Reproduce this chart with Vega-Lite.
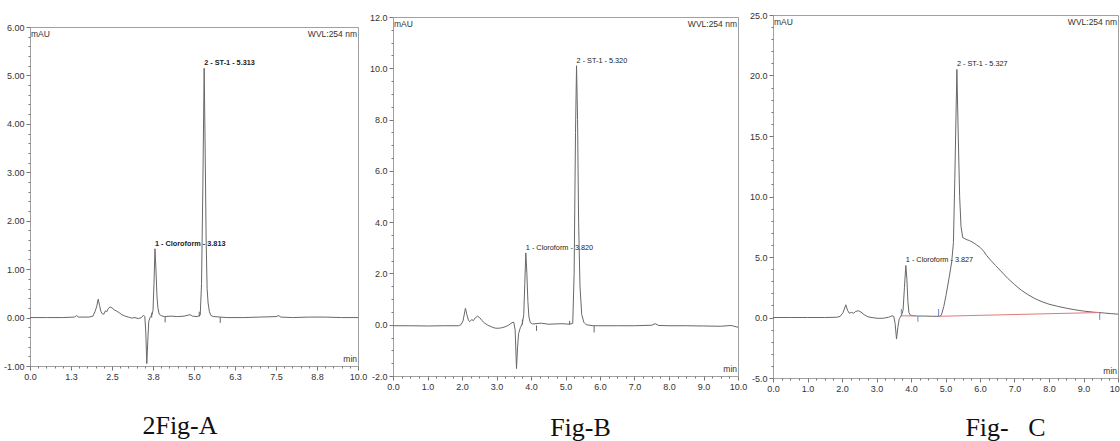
{
  "$schema": "https://vega.github.io/schema/vega-lite/v6.json",
  "background": "white",
  "padding": {"left": 2, "top": 10, "right": 0, "bottom": 0},
  "config": {
    "view": {"stroke": "#a0a0a0", "strokeWidth": 1},
    "axis": {"domain": false, "grid": false, "labelFont": "Liberation Sans", "labelFontSize": 9, "labelColor": "#333", "tickColor": "#777", "labelPadding": 2, "labelFlush": false, "labelOverlap": false},
    "title": {"font": "Liberation Serif", "fontSize": 26, "fontWeight": "normal", "color": "#111", "orient": "bottom", "anchor": "middle", "baseline": "alphabetic"}
  },
  "datasets": {
    "A": [
      {"t":0.0,"v":0.0},{"t":0.5,"v":0.0},{"t":1.0,"v":0.0},{"t":1.35,"v":0.01},{"t":1.42,"v":0.04},{"t":1.48,"v":0.01},{"t":1.8,"v":0.01},{"t":1.92,"v":0.03},{"t":1.98,"v":0.12},{"t":2.03,"v":0.22},{"t":2.08,"v":0.38},{"t":2.12,"v":0.25},{"t":2.16,"v":0.13},{"t":2.2,"v":0.08},{"t":2.25,"v":0.07},{"t":2.3,"v":0.14},{"t":2.34,"v":0.12},{"t":2.38,"v":0.18},{"t":2.44,"v":0.22},{"t":2.5,"v":0.2},{"t":2.57,"v":0.16},{"t":2.65,"v":0.13},{"t":2.72,"v":0.1},{"t":2.8,"v":0.06},{"t":2.9,"v":0.03},{"t":3.0,"v":0.01},{"t":3.1,"v":-0.01},{"t":3.2,"v":0.0},{"t":3.3,"v":-0.02},{"t":3.4,"v":0.0},{"t":3.46,"v":0.05},{"t":3.5,"v":0.02},{"t":3.53,"v":-0.3},{"t":3.56,"v":-0.95},{"t":3.59,"v":-0.5},{"t":3.62,"v":-0.08},{"t":3.66,"v":0.0},{"t":3.72,"v":0.06},{"t":3.75,"v":0.15},{"t":3.78,"v":0.7},{"t":3.81,"v":1.42},{"t":3.84,"v":1.0},{"t":3.87,"v":0.45},{"t":3.9,"v":0.2},{"t":3.94,"v":0.07},{"t":4.0,"v":0.04},{"t":4.1,"v":0.02},{"t":4.3,"v":0.03},{"t":4.5,"v":0.02},{"t":4.7,"v":0.03},{"t":4.88,"v":0.06},{"t":4.95,"v":0.03},{"t":5.1,"v":0.02},{"t":5.19,"v":0.05},{"t":5.23,"v":0.7},{"t":5.27,"v":2.7},{"t":5.31,"v":5.15},{"t":5.34,"v":3.5},{"t":5.37,"v":1.6},{"t":5.4,"v":0.6},{"t":5.43,"v":0.3},{"t":5.47,"v":0.12},{"t":5.52,"v":0.04},{"t":5.6,"v":0.02},{"t":5.8,"v":0.01},{"t":6.0,"v":0.0},{"t":6.5,"v":0.0},{"t":7.0,"v":0.01},{"t":7.5,"v":0.02},{"t":7.58,"v":0.04},{"t":7.65,"v":0.01},{"t":8.0,"v":0.0},{"t":8.5,"v":0.01},{"t":9.0,"v":0.01},{"t":9.5,"v":0.0},{"t":10.0,"v":0.0}
    ],
    "Amark": [{"t":3.71,"v":0.0,"v2":0.1},{"t":4.12,"v":0.02,"v2":-0.1},{"t":5.16,"v":0.02,"v2":0.12},{"t":5.8,"v":0.01,"v2":-0.11}],
    "Alab": [{"t":3.81,"v":1.42,"label":"1 - Cloroform - 3.813"},{"t":5.31,"v":5.15,"label":"2 - ST-1 - 5.313"}],
    "B": [
      {"t":0.0,"v":-0.04},{"t":0.5,"v":-0.04},{"t":1.0,"v":-0.05},{"t":1.5,"v":-0.04},{"t":1.9,"v":-0.04},{"t":1.97,"v":0.0},{"t":2.03,"v":0.15},{"t":2.1,"v":0.64},{"t":2.14,"v":0.4},{"t":2.19,"v":0.16},{"t":2.23,"v":0.12},{"t":2.28,"v":0.2},{"t":2.33,"v":0.16},{"t":2.38,"v":0.26},{"t":2.45,"v":0.33},{"t":2.51,"v":0.28},{"t":2.58,"v":0.16},{"t":2.66,"v":0.06},{"t":2.75,"v":-0.02},{"t":2.85,"v":-0.08},{"t":2.95,"v":-0.13},{"t":3.05,"v":-0.14},{"t":3.15,"v":-0.12},{"t":3.25,"v":-0.08},{"t":3.35,"v":-0.02},{"t":3.45,"v":0.08},{"t":3.5,"v":0.1},{"t":3.54,"v":-0.2},{"t":3.58,"v":-1.71},{"t":3.61,"v":-0.9},{"t":3.64,"v":-0.35},{"t":3.69,"v":-0.12},{"t":3.75,"v":0.05},{"t":3.79,"v":0.4},{"t":3.82,"v":1.6},{"t":3.85,"v":2.8},{"t":3.88,"v":2.0},{"t":3.91,"v":0.9},{"t":3.94,"v":0.3},{"t":3.98,"v":0.08},{"t":4.05,"v":0.03},{"t":4.3,"v":0.06},{"t":4.5,"v":0.02},{"t":4.9,"v":0.04},{"t":5.1,"v":0.02},{"t":5.21,"v":0.05},{"t":5.25,"v":2.0},{"t":5.29,"v":7.5},{"t":5.32,"v":10.1},{"t":5.35,"v":8.0},{"t":5.38,"v":4.0},{"t":5.42,"v":1.5},{"t":5.47,"v":0.4},{"t":5.53,"v":0.1},{"t":5.6,"v":0.0},{"t":5.8,"v":-0.04},{"t":6.5,"v":-0.04},{"t":7.0,"v":-0.04},{"t":7.5,"v":-0.02},{"t":7.6,"v":0.04},{"t":7.7,"v":-0.03},{"t":8.0,"v":-0.04},{"t":8.5,"v":-0.04},{"t":9.0,"v":-0.05},{"t":9.5,"v":-0.06},{"t":9.8,"v":-0.03},{"t":10.0,"v":-0.1}
    ],
    "Bmark": [{"t":3.75,"v":0.0,"v2":0.2},{"t":4.16,"v":-0.03,"v2":-0.24},{"t":5.12,"v":0.0,"v2":0.15},{"t":5.83,"v":-0.04,"v2":-0.3}],
    "Blab": [{"t":3.85,"v":2.8,"label":"1 - Cloroform - 3.820"},{"t":5.32,"v":10.1,"label":"2 - ST-1 - 5.320"}],
    "C": [
      {"t":0.0,"v":0.0},{"t":0.5,"v":0.0},{"t":1.0,"v":0.0},{"t":1.5,"v":0.0},{"t":1.85,"v":0.02},{"t":1.95,"v":0.1},{"t":2.03,"v":0.4},{"t":2.11,"v":1.05},{"t":2.16,"v":0.6},{"t":2.21,"v":0.36},{"t":2.28,"v":0.42},{"t":2.33,"v":0.35},{"t":2.4,"v":0.5},{"t":2.47,"v":0.56},{"t":2.55,"v":0.45},{"t":2.65,"v":0.22},{"t":2.75,"v":0.06},{"t":2.9,"v":-0.02},{"t":3.05,"v":-0.07},{"t":3.2,"v":-0.06},{"t":3.35,"v":0.02},{"t":3.45,"v":0.14},{"t":3.5,"v":0.1},{"t":3.54,"v":-0.5},{"t":3.58,"v":-1.78},{"t":3.62,"v":-0.8},{"t":3.66,"v":-0.1},{"t":3.72,"v":0.15},{"t":3.77,"v":0.6},{"t":3.81,"v":2.5},{"t":3.85,"v":4.3},{"t":3.88,"v":3.2},{"t":3.91,"v":1.3},{"t":3.94,"v":0.4},{"t":3.98,"v":0.2},{"t":4.05,"v":0.15},{"t":4.2,"v":0.12},{"t":4.4,"v":0.12},{"t":4.6,"v":0.1},{"t":4.82,"v":0.1},{"t":4.88,"v":0.2},{"t":4.95,"v":0.9},{"t":5.02,"v":1.9},{"t":5.1,"v":3.2},{"t":5.18,"v":4.6},{"t":5.23,"v":6.2},{"t":5.27,"v":11.5},{"t":5.33,"v":20.5},{"t":5.37,"v":15.0},{"t":5.41,"v":10.0},{"t":5.45,"v":7.5},{"t":5.5,"v":6.6},{"t":5.6,"v":6.45},{"t":5.7,"v":6.35},{"t":5.8,"v":6.2},{"t":5.9,"v":6.0},{"t":6.0,"v":5.8},{"t":6.1,"v":5.5},{"t":6.2,"v":5.1},{"t":6.32,"v":4.7},{"t":6.45,"v":4.3},{"t":6.6,"v":3.85},{"t":6.8,"v":3.25},{"t":7.0,"v":2.72},{"t":7.2,"v":2.25},{"t":7.4,"v":1.87},{"t":7.6,"v":1.55},{"t":7.8,"v":1.3},{"t":8.0,"v":1.1},{"t":8.25,"v":0.92},{"t":8.5,"v":0.77},{"t":8.75,"v":0.64},{"t":9.0,"v":0.53},{"t":9.3,"v":0.44},{"t":9.45,"v":0.41},{"t":9.6,"v":0.37},{"t":9.8,"v":0.32},{"t":10.0,"v":0.28}
    ],
    "Cbase1": [{"t":3.7,"v":0.14},{"t":4.1,"v":0.13}],
    "Cbase2": [{"t":4.82,"v":0.1},{"t":9.45,"v":0.41}],
    "Cmark": [{"t":3.72,"v":0.12,"v2":0.7},{"t":4.2,"v":0.12,"v2":-0.35},{"t":4.8,"v":0.1,"v2":0.7},{"t":9.47,"v":0.42,"v2":-0.2}],
    "Clab": [{"t":3.85,"v":4.3,"label":"1 - Cloroform - 3.827"},{"t":5.33,"v":20.5,"label":"2 - ST-1 - 5.327"}]
  },
  "hconcat": [
    {
      "width": 328, "height": 339,
      "title": {"text": "2Fig-A", "dx": -14, "offset": 32},
      "layer": [
        {"data": {"name": "A"}, "mark": {"type": "line", "color": "#686868", "strokeWidth": 1},
         "encoding": {
           "x": {"field": "t", "type": "quantitative", "scale": {"domain": [0, 10], "nice": false, "zero": false},
                 "axis": {"title": null, "tickCount": 500, "labelOverlap": false, "labelFlush": false, "values": [0,0.25,0.5,0.75,1,1.25,1.5,1.75,2,2.25,2.5,2.75,3,3.25,3.5,3.75,4,4.25,4.5,4.75,5,5.25,5.5,5.75,6,6.25,6.5,6.75,7,7.25,7.5,7.75,8,8.25,8.5,8.75,9,9.25,9.5,9.75,10],
                          "labelExpr": "abs(datum.value/1.25 - round(datum.value/1.25)) < 0.001 ? format(datum.value, '.1f') : ''",
                          "tickSize": {"condition": {"test": "abs(datum.value/1.25 - round(datum.value/1.25)) < 0.001", "value": 4}, "value": 2}}},
           "y": {"field": "v", "type": "quantitative", "scale": {"domain": [-1, 6], "nice": false, "zero": false},
                 "axis": {"title": null, "tickCount": 500, "labelOverlap": false, "values": [-1,-0.8,-0.6,-0.4,-0.2,0,0.2,0.4,0.6,0.8,1,1.2,1.4,1.6,1.8,2,2.2,2.4,2.6,2.8,3,3.2,3.4,3.6,3.8,4,4.2,4.4,4.6,4.8,5,5.2,5.4,5.6,5.8,6],
                          "labelExpr": "abs(datum.value - round(datum.value)) < 0.001 ? toString(round(datum.value)) + '.00' : ''",
                          "tickSize": {"condition": {"test": "abs(datum.value - round(datum.value)) < 0.001", "value": 4}, "value": 2}}}
         }},
        {"data": {"name": "Amark"}, "mark": {"type": "rule", "color": "#666", "strokeWidth": 1},
         "encoding": {"x": {"field": "t", "type": "quantitative"}, "y": {"field": "v", "type": "quantitative"}, "y2": {"field": "v2"}}},
        {"data": {"name": "Alab"}, "mark": {"type": "text", "align": "left", "baseline": "bottom", "dy": -1, "font": "Liberation Sans", "fontSize": 7.3, "fontWeight": "bold", "color": "#222"},
         "encoding": {"x": {"field": "t", "type": "quantitative"}, "y": {"field": "v", "type": "quantitative"}, "text": {"field": "label"}}},
        {"data": {"values": [{"label": "mAU"}]}, "mark": {"type": "text", "align": "left", "baseline": "top", "dx": 1, "dy": 3, "font": "Liberation Sans", "fontSize": 8.5, "color": "#333"},
         "encoding": {"x": {"datum": 0}, "y": {"datum": 6}, "text": {"field": "label"}}},
        {"data": {"values": [{"label": "WVL:254 nm"}]}, "mark": {"type": "text", "align": "right", "baseline": "top", "dx": -1, "dy": 3, "font": "Liberation Sans", "fontSize": 8.5, "color": "#333"},
         "encoding": {"x": {"datum": 10}, "y": {"datum": 6}, "text": {"field": "label"}}},
        {"data": {"values": [{"label": "min"}]}, "mark": {"type": "text", "align": "right", "baseline": "bottom", "dx": -1, "dy": -2, "font": "Liberation Sans", "fontSize": 8.5, "color": "#333"},
         "encoding": {"x": {"datum": 10}, "y": {"datum": -1}, "text": {"field": "label"}}}
      ]
    },
    {
      "width": 345, "height": 359,
      "title": {"text": "Fig-B", "dx": 15, "offset": 24},
      "layer": [
        {"data": {"name": "B"}, "mark": {"type": "line", "color": "#686868", "strokeWidth": 1},
         "encoding": {
           "x": {"field": "t", "type": "quantitative", "scale": {"domain": [0, 10], "nice": false, "zero": false},
                 "axis": {"title": null, "tickCount": 500, "labelOverlap": false, "labelFlush": false, "values": [0,0.25,0.5,0.75,1,1.25,1.5,1.75,2,2.25,2.5,2.75,3,3.25,3.5,3.75,4,4.25,4.5,4.75,5,5.25,5.5,5.75,6,6.25,6.5,6.75,7,7.25,7.5,7.75,8,8.25,8.5,8.75,9,9.25,9.5,9.75,10],
                          "labelExpr": "abs(datum.value - round(datum.value)) < 0.001 ? toString(round(datum.value)) + '.0' : ''",
                          "tickSize": {"condition": {"test": "abs(datum.value - round(datum.value)) < 0.001", "value": 4}, "value": 2}}},
           "y": {"field": "v", "type": "quantitative", "scale": {"domain": [-2, 12], "nice": false, "zero": false},
                 "axis": {"title": null, "tickCount": 500, "labelOverlap": false, "values": [-2,-1.5,-1,-0.5,0,0.5,1,1.5,2,2.5,3,3.5,4,4.5,5,5.5,6,6.5,7,7.5,8,8.5,9,9.5,10,10.5,11,11.5,12],
                          "labelExpr": "abs(datum.value/2 - round(datum.value/2)) < 0.001 ? toString(round(datum.value)) + '.0' : ''",
                          "tickSize": {"condition": {"test": "abs(datum.value/2 - round(datum.value/2)) < 0.001", "value": 4}, "value": 2}}}
         }},
        {"data": {"name": "Bmark"}, "mark": {"type": "rule", "color": "#666", "strokeWidth": 1},
         "encoding": {"x": {"field": "t", "type": "quantitative"}, "y": {"field": "v", "type": "quantitative"}, "y2": {"field": "v2"}}},
        {"data": {"name": "Blab"}, "mark": {"type": "text", "align": "left", "baseline": "bottom", "dy": -1, "font": "Liberation Sans", "fontSize": 7.3, "color": "#222"},
         "encoding": {"x": {"field": "t", "type": "quantitative"}, "y": {"field": "v", "type": "quantitative"}, "text": {"field": "label"}}},
        {"data": {"values": [{"label": "mAU"}]}, "mark": {"type": "text", "align": "left", "baseline": "top", "dx": 1, "dy": 3, "font": "Liberation Sans", "fontSize": 8.5, "color": "#333"},
         "encoding": {"x": {"datum": 0}, "y": {"datum": 12}, "text": {"field": "label"}}},
        {"data": {"values": [{"label": "WVL:254 nm"}]}, "mark": {"type": "text", "align": "right", "baseline": "top", "dx": -1, "dy": 3, "font": "Liberation Sans", "fontSize": 8.5, "color": "#333"},
         "encoding": {"x": {"datum": 10}, "y": {"datum": 12}, "text": {"field": "label"}}},
        {"data": {"values": [{"label": "min"}]}, "mark": {"type": "text", "align": "right", "baseline": "bottom", "dx": -1, "dy": -2, "font": "Liberation Sans", "fontSize": 8.5, "color": "#333"},
         "encoding": {"x": {"datum": 10}, "y": {"datum": -2}, "text": {"field": "label"}}}
      ]
    },
    {
      "width": 345, "height": 363,
      "title": {"text": "Fig-\u00a0\u00a0\u00a0C", "dx": 60, "offset": 22},
      "layer": [
        {"data": {"name": "C"}, "mark": {"type": "line", "color": "#686868", "strokeWidth": 1},
         "encoding": {
           "x": {"field": "t", "type": "quantitative", "scale": {"domain": [0, 10], "nice": false, "zero": false},
                 "axis": {"title": null, "tickCount": 500, "labelOverlap": false, "labelFlush": false, "values": [0,0.25,0.5,0.75,1,1.25,1.5,1.75,2,2.25,2.5,2.75,3,3.25,3.5,3.75,4,4.25,4.5,4.75,5,5.25,5.5,5.75,6,6.25,6.5,6.75,7,7.25,7.5,7.75,8,8.25,8.5,8.75,9,9.25,9.5,9.75,10],
                          "labelExpr": "abs(datum.value - round(datum.value)) < 0.001 ? toString(round(datum.value)) + '.0' : ''",
                          "tickSize": {"condition": {"test": "abs(datum.value - round(datum.value)) < 0.001", "value": 4}, "value": 2}}},
           "y": {"field": "v", "type": "quantitative", "scale": {"domain": [-5, 25], "nice": false, "zero": false},
                 "axis": {"title": null, "tickCount": 500, "labelOverlap": false, "values": [-5,-4,-3,-2,-1,0,1,2,3,4,5,6,7,8,9,10,11,12,13,14,15,16,17,18,19,20,21,22,23,24,25],
                          "labelExpr": "abs(datum.value/5 - round(datum.value/5)) < 0.001 ? toString(round(datum.value)) + '.0' : ''",
                          "tickSize": {"condition": {"test": "abs(datum.value/5 - round(datum.value/5)) < 0.001", "value": 4}, "value": 2}}}
         }},
        {"data": {"name": "Cbase1"}, "mark": {"type": "line", "color": "#e07a7a", "strokeWidth": 1},
         "encoding": {"x": {"field": "t", "type": "quantitative"}, "y": {"field": "v", "type": "quantitative"}}},
        {"data": {"name": "Cbase2"}, "mark": {"type": "line", "color": "#e07a7a", "strokeWidth": 1},
         "encoding": {"x": {"field": "t", "type": "quantitative"}, "y": {"field": "v", "type": "quantitative"}}},
        {"data": {"name": "Cmark"}, "mark": {"type": "rule", "color": "#6f80d6", "strokeWidth": 1},
         "encoding": {"x": {"field": "t", "type": "quantitative"}, "y": {"field": "v", "type": "quantitative"}, "y2": {"field": "v2"}}},
        {"data": {"name": "Clab"}, "mark": {"type": "text", "align": "left", "baseline": "bottom", "dy": -1, "font": "Liberation Sans", "fontSize": 7.3, "color": "#222"},
         "encoding": {"x": {"field": "t", "type": "quantitative"}, "y": {"field": "v", "type": "quantitative"}, "text": {"field": "label"}}},
        {"data": {"values": [{"label": "mAU"}]}, "mark": {"type": "text", "align": "left", "baseline": "top", "dx": 1, "dy": 3, "font": "Liberation Sans", "fontSize": 8.5, "color": "#333"},
         "encoding": {"x": {"datum": 0}, "y": {"datum": 25}, "text": {"field": "label"}}},
        {"data": {"values": [{"label": "WVL:254 nm"}]}, "mark": {"type": "text", "align": "right", "baseline": "top", "dx": -1, "dy": 3, "font": "Liberation Sans", "fontSize": 8.5, "color": "#333"},
         "encoding": {"x": {"datum": 10}, "y": {"datum": 25}, "text": {"field": "label"}}},
        {"data": {"values": [{"label": "min"}]}, "mark": {"type": "text", "align": "right", "baseline": "bottom", "dx": -1, "dy": -2, "font": "Liberation Sans", "fontSize": 8.5, "color": "#333"},
         "encoding": {"x": {"datum": 10}, "y": {"datum": -5}, "text": {"field": "label"}}}
      ]
    }
  ],
  "spacing": 35,
  "bounds": "flush",
  "center": true
}
